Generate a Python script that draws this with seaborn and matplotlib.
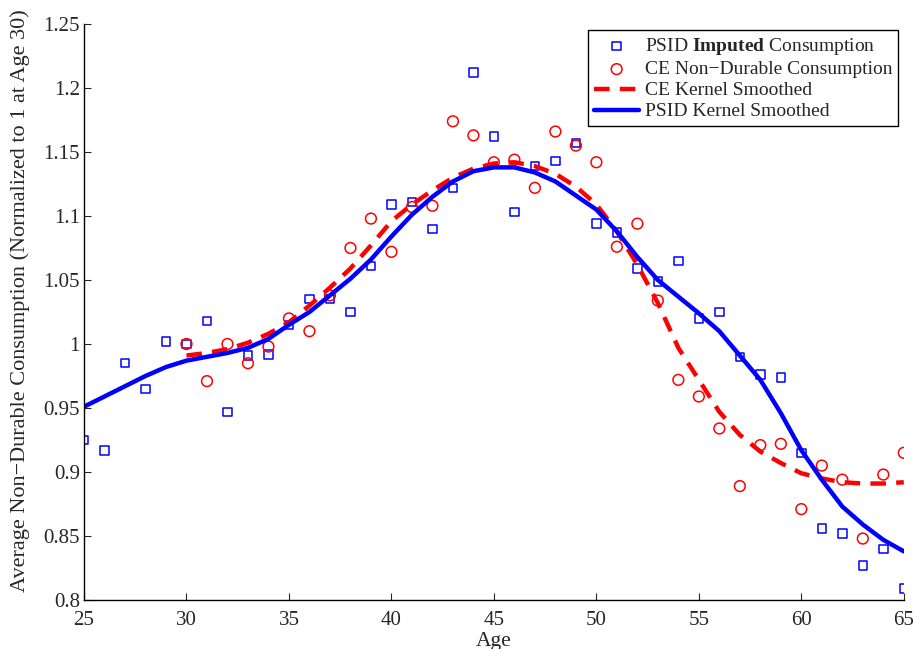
import numpy as np
import pandas as pd
import seaborn as sns
import matplotlib.pyplot as plt

# values
ages_psid = list(range(25, 66))
psid_imputed = [0.925, 0.917, 0.985, 0.965, 1.002, 1.000, 1.018, 0.947, 0.991, 0.992,
                1.015, 1.035, 1.035, 1.025, 1.061, 1.109, 1.111, 1.090, 1.122, 1.212,
                1.162, 1.103, 1.139, 1.143, 1.157, 1.094, 1.087, 1.059, 1.049, 1.065,
                1.020, 1.025, 0.990, 0.976, 0.974, 0.915, 0.856, 0.852, 0.827, 0.840,
                0.809]
psid_smooth = [0.951, 0.959, 0.967, 0.975, 0.982, 0.987, 0.990, 0.993, 0.997, 1.004,
               1.015, 1.025, 1.038, 1.051, 1.066, 1.084, 1.101, 1.115, 1.127, 1.135,
               1.138, 1.138, 1.134, 1.127, 1.116, 1.105, 1.088, 1.068, 1.050, 1.037,
               1.024, 1.010, 0.991, 0.972, 0.946, 0.917, 0.894, 0.873, 0.859, 0.847,
               0.838]

ages_ce = list(range(30, 66))
ce_nondurable = [1.000, 0.971, 1.000, 0.985, 0.998, 1.020, 1.010, 1.038, 1.075, 1.098,
                 1.072, 1.107, 1.108, 1.174, 1.163, 1.142, 1.144, 1.122, 1.166, 1.155,
                 1.142, 1.076, 1.094, 1.034, 0.972, 0.959, 0.934, 0.889, 0.921, 0.922,
                 0.871, 0.905, 0.894, 0.848, 0.898, 0.915]
ce_smooth = [0.991, 0.993, 0.996, 1.001, 1.008, 1.017, 1.030, 1.044, 1.059, 1.077,
             1.096, 1.109, 1.120, 1.130, 1.137, 1.141, 1.142, 1.139, 1.133, 1.123,
             1.109, 1.088, 1.062, 1.032, 0.997, 0.972, 0.947, 0.929, 0.916, 0.907,
             0.899, 0.895, 0.892, 0.891, 0.891, 0.892]

psid = pd.DataFrame({"age": ages_psid, "imputed": psid_imputed, "smooth": psid_smooth})
ce = pd.DataFrame({"age": ages_ce, "nondur": ce_nondurable, "smooth": ce_smooth})

sns.set_style("ticks")
plt.rcParams["font.family"] = ["Liberation Serif", "DejaVu Serif"]
plt.rcParams["mathtext.fontset"] = "custom"
plt.rcParams["mathtext.rm"] = "Liberation Serif"
plt.rcParams["mathtext.bf"] = "Liberation Serif:bold"
plt.rcParams["xtick.direction"] = "in"
plt.rcParams["ytick.direction"] = "in"

fig = plt.figure(figsize=(9.17, 6.49), dpi=100, facecolor="white")
ax = fig.add_axes([0.0916, 0.0755, 0.894, 0.8875])

sns.scatterplot(data=psid, x="age", y="imputed", ax=ax, marker="s", s=38,
                facecolor="none", edgecolor="blue", linewidth=1.1,
                label="PSID $\\mathbf{Imputed}$ Consumption")
sns.scatterplot(data=ce, x="age", y="nondur", ax=ax, marker="o", s=60,
                facecolor="none", edgecolor="red", linewidth=1.1,
                label="CE Non\u2212Durable Consumption")
sns.lineplot(data=ce, x="age", y="smooth", ax=ax, color="red", linewidth=3.2,
             dashes=False, label="CE Kernel Smoothed")
ax.lines[-1].set_dashes([3.5, 2.3])
sns.lineplot(data=psid, x="age", y="smooth", ax=ax, color="blue", linewidth=3.2,
             label="PSID Kernel Smoothed")

ax.set_xlim(25, 65)
ax.set_ylim(0.8, 1.25)
ax.set_xticks(np.arange(25, 66, 5))
ax.set_yticks(np.arange(0.8, 1.2501, 0.05))
ax.set_yticklabels(["0.8", "0.85", "0.9", "0.95", "1", "1.05", "1.1", "1.15", "1.2", "1.25"])
ax.tick_params(labelsize=15, length=5, width=0.8, pad=3)
ax.tick_params(axis="x", pad=8)
ax.set_xlabel("Age", fontsize=15.5)
ax.xaxis.set_label_coords(0.5, -0.055)
ax.set_ylabel("Average Non\u2212Durable Consumption (Normalized to 1 at Age 30)", fontsize=16)
ax.yaxis.set_label_coords(-0.066, 0.519)
sns.despine(ax=ax)
for sp in ["left", "bottom"]:
    ax.spines[sp].set_color("black")
    ax.spines[sp].set_linewidth(1.0)

leg = ax.legend(loc="upper right", fontsize=14, frameon=True, fancybox=False,
                edgecolor="black", framealpha=1, borderpad=0.3, labelspacing=0.18,
                handlelength=2.3, handletextpad=0.3, bbox_to_anchor=(1.005, 1.006))
leg.get_frame().set_linewidth(1.0)

plt.savefig("out.png", dpi=100)
plt.close()
